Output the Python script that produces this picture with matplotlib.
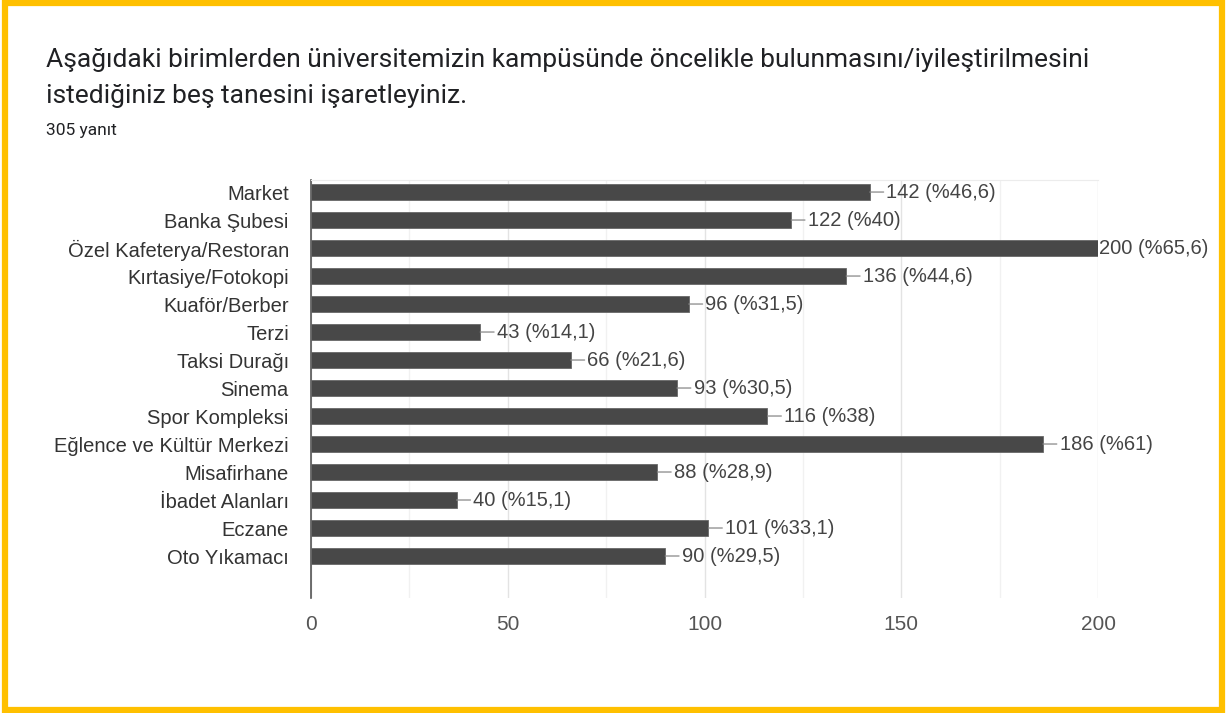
import matplotlib
matplotlib.use("Agg")
import matplotlib.pyplot as plt
from matplotlib.patches import Rectangle

# survey answers, top to bottom as in the form summary
categories = [
    "Market", "Banka Şubesi", "Özel Kafeterya/Restoran", "Kırtasiye/Fotokopi",
    "Kuaför/Berber", "Terzi", "Taksi Durağı", "Sinema", "Spor Kompleksi",
    "Eğlence ve Kültür Merkezi", "Misafirhane", "İbadet Alanları", "Eczane",
    "Oto Yıkamacı",
]
# bar lengths as drawn in the picture
values = [142, 122, 200, 136, 96, 43, 66, 93, 116, 186, 88, 37, 101, 90]
# value labels as printed next to the bars
bar_labels = [
    "142 (%46,6)", "122 (%40)", "200 (%65,6)", "136 (%44,6)", "96 (%31,5)",
    "43 (%14,1)", "66 (%21,6)", "93 (%30,5)", "116 (%38)", "186 (%61)",
    "88 (%28,9)", "40 (%15,1)", "101 (%33,1)", "90 (%29,5)",
]
xticks = [0, 50, 100, 150, 200]

title_lines = ["Aşağıdaki birimlerden üniversitemizin kampüsünde öncelikle bulunmasını/iyileştirilmesini",
               "istediğiniz beş tanesini işaretleyiniz."]
subtitle = "305 yanıt"

W, H = 1227, 713
fig = plt.figure(figsize=(W / 100, H / 100), dpi=100)
fig.patch.set_facecolor("white")

# yellow frame around the screenshot
fig.patches.append(Rectangle((0.004, 0.004), 0.992, 0.992, transform=fig.transFigure,
                             fill=False, edgecolor="#FFC000", linewidth=4.5))

for y, line in zip([60, 96], title_lines):
    fig.text(46 / W, 1 - y / H, line, fontsize=19, family="Roboto",
             color="#202124", va="center", ha="left")
fig.text(46 / W, 1 - 131 / H, subtitle, fontsize=12.5, family="Roboto",
         color="#202124", va="center", ha="left")

ax = fig.add_axes([311 / W, 1 - 598 / H, 787 / W, 418 / H])
pos = list(range(len(categories)))
ax.barh(pos, values, height=0.6, color="#484848", edgecolor="#686868", linewidth=0.6, zorder=3)

xmax = 200
for i, (v, lab) in enumerate(zip(values, bar_labels)):
    if v >= xmax:
        # full-length bar: label sits right at the bar end, no leader line
        ax.annotate(lab, xy=(v, i), xytext=(1, 0), textcoords="offset points",
                    va="center", ha="left", fontsize=14.5, family="Liberation Sans",
                    color="#444444", annotation_clip=False)
    else:
        ax.annotate(lab, xy=(v, i), xytext=(12, 0), textcoords="offset points",
                    va="center", ha="left", fontsize=14.5, family="Liberation Sans",
                    color="#444444", annotation_clip=False,
                    arrowprops=dict(arrowstyle="-", color="#888888", lw=0.9,
                                    shrinkA=0, shrinkB=0))

ax.set_xlim(0, xmax)
ax.set_ylim(14.5, -0.43)
ax.set_yticks(pos)
ax.set_yticklabels(categories, fontsize=14.5, family="Liberation Sans", color="#333333")
ax.set_xticks(xticks)
ax.set_xticklabels([str(t) for t in xticks], fontsize=15, family="Liberation Sans", color="#555555")
ax.set_xticks(range(25, 200, 50), minor=True)
ax.tick_params(axis="both", which="both", length=0)
ax.tick_params(axis="y", pad=16)
ax.tick_params(axis="x", pad=12)

ax.grid(axis="x", which="major", color="#e3e3e3", linewidth=1, zorder=0)
ax.grid(axis="x", which="minor", color="#f1f1f1", linewidth=1, zorder=0)

for side in ["right", "bottom"]:
    ax.spines[side].set_visible(False)
ax.spines["top"].set_color("#ececec")
ax.spines["left"].set_color("#555555")
ax.spines["left"].set_linewidth(1.2)

fig.savefig("out.png", dpi=100)
